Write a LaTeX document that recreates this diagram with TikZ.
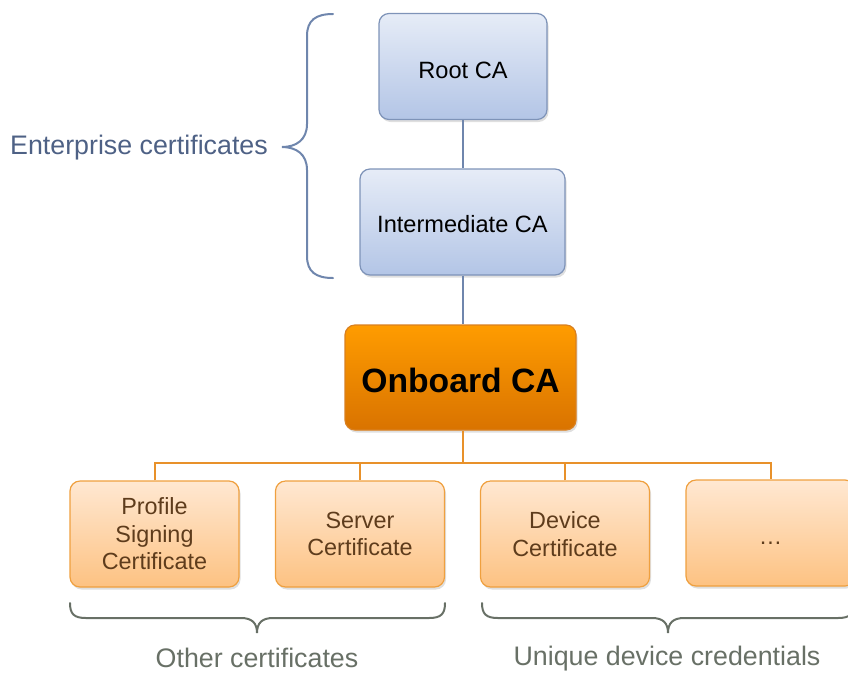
\documentclass[tikz,border=0pt]{standalone}
\usepackage{fontspec}
\setmainfont{Liberation Sans}
\usetikzlibrary{shadows}
\definecolor{bluetop}{HTML}{E6ECF7}
\definecolor{bluebot}{HTML}{B3C5E6}
\definecolor{blueedge}{HTML}{7E93B8}
\definecolor{blueline}{HTML}{6F86AD}
\definecolor{ortop}{HTML}{FF9C00}
\definecolor{orbot}{HTML}{D97300}
\definecolor{oredge}{HTML}{D98020}
\definecolor{lttop}{HTML}{FFE8D2}
\definecolor{ltbot}{HTML}{FDC282}
\definecolor{ltedge}{HTML}{EFA03F}
\definecolor{orline}{HTML}{E8912A}
\definecolor{brtext}{HTML}{5E3C1C}
\definecolor{entcol}{HTML}{4E6185}
\definecolor{greycol}{HTML}{687066}
\begin{document}
\begin{tikzpicture}[x=1pt,y=-1pt,
  boxbase/.style={rounded corners=10pt, line width=1.2pt, align=center, inner sep=0pt,
    drop shadow={opacity=0.25, shadow xshift=1.5pt, shadow yshift=-2.5pt}},
  bluebox/.style={boxbase, draw=blueedge, top color=bluetop, bottom color=bluebot,
    font=\fontsize{23.6}{28}\selectfont, text=black, minimum height=106pt},
  onbox/.style={boxbase, draw=oredge, top color=ortop, bottom color=orbot,
    font=\fontsize{33.7}{39}\selectfont\bfseries, text=black, minimum width=231pt, minimum height=105pt},
  certbox/.style={boxbase, draw=ltedge, top color=lttop, bottom color=ltbot,
    font=\fontsize{23.4}{27.5}\selectfont, text=brtext, minimum width=169pt, minimum height=106pt},
  blink/.style={draw=blueline, line width=2pt},
  olink/.style={draw=orline, line width=2pt},
  bracestyle/.style={line width=2pt, line cap=round},
  labeltext/.style={font=\fontsize{26.8}{30}\selectfont, inner sep=0pt}
]
\useasboundingbox (0,0) rectangle (848,673);
\clip (0,0) rectangle (848,673);

\node[bluebox, minimum width=168pt, text height=24pt, text depth=0pt] (root) at (463,66.5) {Root CA};
\node[bluebox, minimum width=205pt, text height=21pt, text depth=0pt] (inter) at (462.5,222) {Intermediate CA};
\node[onbox, text height=29pt, text depth=0pt] (onb) at (460.5,377.5) {Onboard CA};

\node[certbox] (prof) at (154.5,534) {Profile\\Signing\\Certificate};
\node[certbox] (serv) at (360,534) {Server\\Certificate};
\node[certbox] (dev) at (565,534) {Device\\Certificate};
\node[certbox, text height=22pt, text depth=0pt] (more) at (770.5,533) {\dots};

\coordinate (bus) at (463,463);

\draw[blink] (root.south -| bus) -- (inter.north -| bus);
\draw[blink] (inter.south -| bus) -- (onb.north -| bus);
\draw[olink] (onb.south -| bus) -- (bus);
\draw[olink] (prof.north) -- (prof.north |- bus) -- (more.north |- bus) -- (more.north);
\draw[olink] (serv.north) -- (serv.north |- bus);
\draw[olink] (dev.north) -- (dev.north |- bus);

% left brace
\draw[bracestyle, draw=blueline] (333,14) .. controls (316,14) and (307,20) .. (307,36) -- (307,124)
  .. controls (307,140) and (296,147) .. (282,147)
  .. controls (296,147) and (307,154) .. (307,170) -- (307,256)
  .. controls (307,272) and (316,278) .. (333,278);
\node[labeltext, text=entcol, anchor=east] (ent) at (268,148) {Enterprise certificates};

% bottom braces
\draw[bracestyle, draw=greycol] (70,603) .. controls (70,614) and (74,618) .. (86,618) -- (241,618)
  .. controls (252,618) and (257,623) .. (257,633)
  .. controls (257,623) and (262,618) .. (273,618) -- (429,618)
  .. controls (441,618) and (445,614) .. (445,603);
\node[labeltext, text=greycol] (other) at (257,658) {Other certificates};

\draw[bracestyle, draw=greycol] (482,603) .. controls (482,614) and (486,618) .. (498,618) -- (652,618)
  .. controls (663,618) and (668,623) .. (668,633)
  .. controls (668,623) and (673,618) .. (684,618) -- (838,618)
  .. controls (850,618) and (854,614) .. (854,603);
\node[labeltext, text=greycol] (uniq) at (667,659) {Unique device credentials};
\end{tikzpicture}
\end{document}
